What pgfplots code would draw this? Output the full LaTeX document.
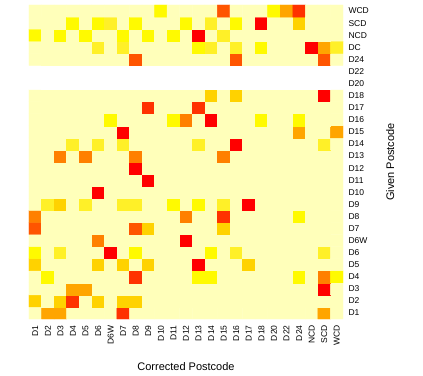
\documentclass[border=0pt]{standalone}
\usepackage{pgfplots}
\pgfplotsset{compat=1.18}
\usepackage{fontspec}
\setmainfont{Liberation Sans}
\begin{document}
\begin{tikzpicture}
\begin{axis}[
  name=ax,
  scale only axis,
  width=314pt, height=314pt,
  xmin=-0.5, xmax=24.5, ymin=-0.5, ymax=25.5,
  axis line style={draw=none},
  major tick length=0pt,
  xtick={0,...,24},
  xticklabels={D1,D2,D3,D4,D5,D6,D6W,D7,D8,D9,D10,D11,D12,D13,D14,D15,D16,D17,D18,D20,D22,D24,NCD,SCD,WCD},
  ytick={0,...,25},
  yticklabels={D1,D2,D3,D4,D5,D6,D6W,D7,D8,D9,D10,D11,D12,D13,D14,D15,D16,D17,D18,D20,D22,D24,DC,NCD,SCD,WCD},
  yticklabel pos=right,
  xticklabel style={rotate=90, anchor=east, font=\fontsize{8.5}{10}\selectfont},
  yticklabel style={anchor=west, font=\fontsize{8.5}{10}\selectfont},
  xticklabel shift=3pt,
  yticklabel shift=2pt,
  xlabel={Corrected Postcode},
  ylabel={Given Postcode},
  xlabel style={at={(axis description cs:0.5,-0.15)}, anchor=center, font=\fontsize{11}{13}\selectfont},
  ylabel style={at={(axis description cs:1.15,0.5)}, anchor=center, font=\fontsize{11}{13}\selectfont},
  colormap={hm}{rgb255=(255,255,255) rgb255=(255,255,186) rgb255=(255,240,40) rgb255=(255,250,0)
    rgb255=(255,210,0) rgb255=(255,165,0) rgb255=(255,128,0) rgb255=(255,85,0) rgb255=(255,50,0) rgb255=(255,0,0)},
  colormap access=direct,
]
% meta: 0 = no data, 1 = background, 2..9 = yellow to red
\addplot[matrix plot*, mesh/cols=25, point meta=explicit] coordinates {
(0,0)[1] (1,0)[5] (2,0)[5] (3,0)[1] (4,0)[1] (5,0)[1] (6,0)[1] (7,0)[8] (8,0)[1] (9,0)[1] (10,0)[1] (11,0)[1] (12,0)[1] (13,0)[1] (14,0)[1] (15,0)[1] (16,0)[1] (17,0)[1] (18,0)[1] (19,0)[1] (20,0)[1] (21,0)[1] (22,0)[1] (23,0)[5] (24,0)[1]
(0,1)[4] (1,1)[1] (2,1)[4] (3,1)[8] (4,1)[1] (5,1)[4] (6,1)[1] (7,1)[4] (8,1)[4] (9,1)[1] (10,1)[1] (11,1)[1] (12,1)[1] (13,1)[1] (14,1)[1] (15,1)[1] (16,1)[1] (17,1)[1] (18,1)[1] (19,1)[1] (20,1)[1] (21,1)[1] (22,1)[1] (23,1)[1] (24,1)[1]
(0,2)[1] (1,2)[1] (2,2)[1] (3,2)[5] (4,2)[5] (5,2)[1] (6,2)[1] (7,2)[1] (8,2)[1] (9,2)[1] (10,2)[1] (11,2)[1] (12,2)[1] (13,2)[1] (14,2)[1] (15,2)[1] (16,2)[1] (17,2)[1] (18,2)[1] (19,2)[1] (20,2)[1] (21,2)[1] (22,2)[1] (23,2)[9] (24,2)[1]
(0,3)[1] (1,3)[3] (2,3)[1] (3,3)[1] (4,3)[1] (5,3)[1] (6,3)[1] (7,3)[1] (8,3)[8] (9,3)[1] (10,3)[1] (11,3)[1] (12,3)[1] (13,3)[3] (14,3)[3] (15,3)[1] (16,3)[1] (17,3)[1] (18,3)[1] (19,3)[1] (20,3)[1] (21,3)[3] (22,3)[1] (23,3)[6] (24,3)[3]
(0,4)[4] (1,4)[1] (2,4)[1] (3,4)[1] (4,4)[1] (5,4)[4] (6,4)[1] (7,4)[4] (8,4)[1] (9,4)[4] (10,4)[1] (11,4)[1] (12,4)[1] (13,4)[9] (14,4)[1] (15,4)[1] (16,4)[1] (17,4)[4] (18,4)[1] (19,4)[1] (20,4)[1] (21,4)[1] (22,4)[1] (23,4)[1] (24,4)[1]
(0,5)[3] (1,5)[1] (2,5)[2] (3,5)[1] (4,5)[1] (5,5)[1] (6,5)[9] (7,5)[1] (8,5)[3] (9,5)[1] (10,5)[1] (11,5)[1] (12,5)[1] (13,5)[1] (14,5)[3] (15,5)[1] (16,5)[2] (17,5)[1] (18,5)[1] (19,5)[1] (20,5)[1] (21,5)[1] (22,5)[1] (23,5)[2] (24,5)[1]
(0,6)[1] (1,6)[1] (2,6)[1] (3,6)[1] (4,6)[1] (5,6)[6] (6,6)[1] (7,6)[1] (8,6)[1] (9,6)[1] (10,6)[1] (11,6)[1] (12,6)[9] (13,6)[1] (14,6)[1] (15,6)[1] (16,6)[1] (17,6)[1] (18,6)[1] (19,6)[1] (20,6)[1] (21,6)[1] (22,6)[1] (23,6)[1] (24,6)[1]
(0,7)[7] (1,7)[1] (2,7)[1] (3,7)[1] (4,7)[1] (5,7)[1] (6,7)[1] (7,7)[1] (8,7)[7] (9,7)[4] (10,7)[1] (11,7)[1] (12,7)[1] (13,7)[1] (14,7)[1] (15,7)[4] (16,7)[1] (17,7)[1] (18,7)[1] (19,7)[1] (20,7)[1] (21,7)[1] (22,7)[1] (23,7)[1] (24,7)[1]
(0,8)[6] (1,8)[1] (2,8)[1] (3,8)[1] (4,8)[1] (5,8)[1] (6,8)[1] (7,8)[1] (8,8)[1] (9,8)[1] (10,8)[1] (11,8)[1] (12,8)[6] (13,8)[1] (14,8)[1] (15,8)[8] (16,8)[1] (17,8)[1] (18,8)[1] (19,8)[1] (20,8)[1] (21,8)[3] (22,8)[1] (23,8)[1] (24,8)[1]
(0,9)[1] (1,9)[2] (2,9)[4] (3,9)[1] (4,9)[2] (5,9)[1] (6,9)[1] (7,9)[2] (8,9)[2] (9,9)[1] (10,9)[1] (11,9)[3] (12,9)[1] (13,9)[3] (14,9)[1] (15,9)[2] (16,9)[1] (17,9)[9] (18,9)[1] (19,9)[1] (20,9)[1] (21,9)[1] (22,9)[1] (23,9)[1] (24,9)[1]
(0,10)[1] (1,10)[1] (2,10)[1] (3,10)[1] (4,10)[1] (5,10)[9] (6,10)[1] (7,10)[1] (8,10)[1] (9,10)[1] (10,10)[1] (11,10)[1] (12,10)[1] (13,10)[1] (14,10)[1] (15,10)[1] (16,10)[1] (17,10)[1] (18,10)[1] (19,10)[1] (20,10)[1] (21,10)[1] (22,10)[1] (23,10)[1] (24,10)[1]
(0,11)[1] (1,11)[1] (2,11)[1] (3,11)[1] (4,11)[1] (5,11)[1] (6,11)[1] (7,11)[1] (8,11)[1] (9,11)[9] (10,11)[1] (11,11)[1] (12,11)[1] (13,11)[1] (14,11)[1] (15,11)[1] (16,11)[1] (17,11)[1] (18,11)[1] (19,11)[1] (20,11)[1] (21,11)[1] (22,11)[1] (23,11)[1] (24,11)[1]
(0,12)[1] (1,12)[1] (2,12)[1] (3,12)[1] (4,12)[1] (5,12)[1] (6,12)[1] (7,12)[1] (8,12)[9] (9,12)[1] (10,12)[1] (11,12)[1] (12,12)[1] (13,12)[1] (14,12)[1] (15,12)[1] (16,12)[1] (17,12)[1] (18,12)[1] (19,12)[1] (20,12)[1] (21,12)[1] (22,12)[1] (23,12)[1] (24,12)[1]
(0,13)[1] (1,13)[1] (2,13)[6] (3,13)[1] (4,13)[6] (5,13)[1] (6,13)[1] (7,13)[1] (8,13)[6] (9,13)[1] (10,13)[1] (11,13)[1] (12,13)[1] (13,13)[1] (14,13)[1] (15,13)[6] (16,13)[1] (17,13)[1] (18,13)[1] (19,13)[1] (20,13)[1] (21,13)[1] (22,13)[1] (23,13)[1] (24,13)[1]
(0,14)[1] (1,14)[1] (2,14)[1] (3,14)[2] (4,14)[1] (5,14)[2] (6,14)[1] (7,14)[2] (8,14)[1] (9,14)[1] (10,14)[1] (11,14)[1] (12,14)[1] (13,14)[2] (14,14)[1] (15,14)[1] (16,14)[9] (17,14)[1] (18,14)[1] (19,14)[1] (20,14)[1] (21,14)[1] (22,14)[1] (23,14)[2] (24,14)[1]
(0,15)[1] (1,15)[1] (2,15)[1] (3,15)[1] (4,15)[1] (5,15)[1] (6,15)[1] (7,15)[9] (8,15)[1] (9,15)[1] (10,15)[1] (11,15)[1] (12,15)[1] (13,15)[1] (14,15)[1] (15,15)[1] (16,15)[1] (17,15)[1] (18,15)[1] (19,15)[1] (20,15)[1] (21,15)[5] (22,15)[1] (23,15)[1] (24,15)[5]
(0,16)[1] (1,16)[1] (2,16)[1] (3,16)[1] (4,16)[1] (5,16)[1] (6,16)[3] (7,16)[1] (8,16)[1] (9,16)[1] (10,16)[1] (11,16)[3] (12,16)[6] (13,16)[1] (14,16)[9] (15,16)[1] (16,16)[1] (17,16)[1] (18,16)[3] (19,16)[1] (20,16)[1] (21,16)[3] (22,16)[1] (23,16)[1] (24,16)[1]
(0,17)[1] (1,17)[1] (2,17)[1] (3,17)[1] (4,17)[1] (5,17)[1] (6,17)[1] (7,17)[1] (8,17)[1] (9,17)[8] (10,17)[1] (11,17)[1] (12,17)[1] (13,17)[8] (14,17)[1] (15,17)[1] (16,17)[1] (17,17)[1] (18,17)[1] (19,17)[1] (20,17)[1] (21,17)[1] (22,17)[1] (23,17)[1] (24,17)[1]
(0,18)[1] (1,18)[1] (2,18)[1] (3,18)[1] (4,18)[1] (5,18)[1] (6,18)[1] (7,18)[1] (8,18)[1] (9,18)[1] (10,18)[1] (11,18)[1] (12,18)[1] (13,18)[1] (14,18)[4] (15,18)[1] (16,18)[4] (17,18)[1] (18,18)[1] (19,18)[1] (20,18)[1] (21,18)[1] (22,18)[1] (23,18)[9] (24,18)[1]
(0,19)[0] (1,19)[0] (2,19)[0] (3,19)[0] (4,19)[0] (5,19)[0] (6,19)[0] (7,19)[0] (8,19)[0] (9,19)[0] (10,19)[0] (11,19)[0] (12,19)[0] (13,19)[0] (14,19)[0] (15,19)[0] (16,19)[0] (17,19)[0] (18,19)[0] (19,19)[0] (20,19)[0] (21,19)[0] (22,19)[0] (23,19)[0] (24,19)[0]
(0,20)[0] (1,20)[0] (2,20)[0] (3,20)[0] (4,20)[0] (5,20)[0] (6,20)[0] (7,20)[0] (8,20)[0] (9,20)[0] (10,20)[0] (11,20)[0] (12,20)[0] (13,20)[0] (14,20)[0] (15,20)[0] (16,20)[0] (17,20)[0] (18,20)[0] (19,20)[0] (20,20)[0] (21,20)[0] (22,20)[0] (23,20)[0] (24,20)[0]
(0,21)[1] (1,21)[1] (2,21)[1] (3,21)[1] (4,21)[1] (5,21)[1] (6,21)[1] (7,21)[1] (8,21)[7] (9,21)[1] (10,21)[1] (11,21)[1] (12,21)[1] (13,21)[1] (14,21)[1] (15,21)[1] (16,21)[7] (17,21)[1] (18,21)[1] (19,21)[1] (20,21)[1] (21,21)[1] (22,21)[1] (23,21)[7] (24,21)[1]
(0,22)[1] (1,22)[1] (2,22)[1] (3,22)[1] (4,22)[1] (5,22)[2] (6,22)[1] (7,22)[2] (8,22)[1] (9,22)[1] (10,22)[1] (11,22)[1] (12,22)[1] (13,22)[3] (14,22)[2] (15,22)[1] (16,22)[2] (17,22)[1] (18,22)[3] (19,22)[1] (20,22)[1] (21,22)[1] (22,22)[9] (23,22)[5] (24,22)[2]
(0,23)[3] (1,23)[1] (2,23)[3] (3,23)[1] (4,23)[3] (5,23)[1] (6,23)[1] (7,23)[3] (8,23)[1] (9,23)[3] (10,23)[1] (11,23)[3] (12,23)[1] (13,23)[9] (14,23)[1] (15,23)[2] (16,23)[1] (17,23)[1] (18,23)[1] (19,23)[1] (20,23)[1] (21,23)[1] (22,23)[1] (23,23)[1] (24,23)[1]
(0,24)[1] (1,24)[1] (2,24)[1] (3,24)[3] (4,24)[1] (5,24)[3] (6,24)[2] (7,24)[1] (8,24)[3] (9,24)[1] (10,24)[1] (11,24)[1] (12,24)[3] (13,24)[1] (14,24)[2] (15,24)[1] (16,24)[3] (17,24)[1] (18,24)[9] (19,24)[1] (20,24)[1] (21,24)[4] (22,24)[1] (23,24)[1] (24,24)[1]
(0,25)[1] (1,25)[1] (2,25)[1] (3,25)[1] (4,25)[1] (5,25)[1] (6,25)[1] (7,25)[1] (8,25)[1] (9,25)[1] (10,25)[3] (11,25)[1] (12,25)[1] (13,25)[1] (14,25)[1] (15,25)[7] (16,25)[1] (17,25)[1] (18,25)[1] (19,25)[3] (20,25)[5] (21,25)[8] (22,25)[1] (23,25)[1] (24,25)[1]
};
\end{axis}
\path ([xshift=-29pt,yshift=-56pt]ax.south west) rectangle ([xshift=80pt,yshift=5pt]ax.north east);
\end{tikzpicture}
\end{document}
